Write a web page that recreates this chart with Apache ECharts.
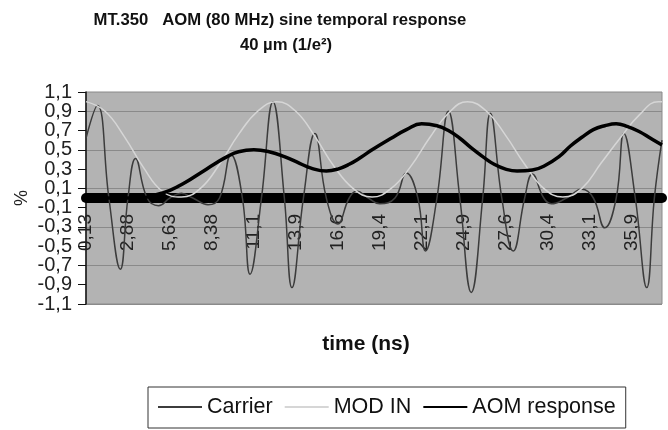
<!DOCTYPE html>
<html>
<head>
<meta charset="utf-8">
<script src="https://cdn.jsdelivr.net/npm/echarts@6/dist/echarts.min.js"></script>
<style>html,body{margin:0;padding:0;background:#fff;}#c{width:668px;height:430px;}</style>
</head>
<body>
<div id="c"></div>
<script>
// time axis categories (ns), one sample every 0.25 ns
const times = [
  0.125,0.375,0.625,0.875,1.125,1.375,1.625,1.875,
  2.125,2.375,2.625,2.875,3.125,3.375,3.625,3.875,
  4.125,4.375,4.625,4.875,5.125,5.375,5.625,5.875,
  6.125,6.375,6.625,6.875,7.125,7.375,7.625,7.875,
  8.125,8.375,8.625,8.875,9.125,9.375,9.625,9.875,
  10.125,10.375,10.625,10.875,11.125,11.375,11.625,11.875,
  12.125,12.375,12.625,12.875,13.125,13.375,13.625,13.875,
  14.125,14.375,14.625,14.875,15.125,15.375,15.625,15.875,
  16.125,16.375,16.625,16.875,17.125,17.375,17.625,17.875,
  18.125,18.375,18.625,18.875,19.125,19.375,19.625,19.875,
  20.125,20.375,20.625,20.875,21.125,21.375,21.625,21.875,
  22.125,22.375,22.625,22.875,23.125,23.375,23.625,23.875,
  24.125,24.375,24.625,24.875,25.125,25.375,25.625,25.875,
  26.125,26.375,26.625,26.875,27.125,27.375,27.625,27.875,
  28.125,28.375,28.625,28.875,29.125,29.375,29.625,29.875,
  30.125,30.375,30.625,30.875,31.125,31.375,31.625,31.875,
  32.125,32.375,32.625,32.875,33.125,33.375,33.625,33.875,
  34.125,34.375,34.625,34.875,35.125,35.375,35.625,35.875,
  36.125,36.375,36.625,36.875,37.125,37.375,37.625,37.875
];

// labelled y ticks (%), split in non-adjacent groups so none is hidden
const yTicks = [-1.1,-0.9,-0.7,-0.5,-0.3,-0.1,0.1,0.3,0.5,0.7,0.9,1.1];
const yTicksEnds = [-1.1, 1.1];
const yTicksA = [-0.9,-0.5,-0.1,0.3,0.7];
const yTicksB = [-0.7,-0.3,0.1,0.5,0.9];

// [sample index, value]
const carrier = [
  [0,0.62],[3,0.96],[6,0],[9,-0.74],[11,0],[13,0.41],[16,0],[19,-0.08],[22,0],[25,0.05],
  [28,0],[32,-0.07],[35,0],[38,0.45],[41,0],[43,-0.79],[46,0],[49,1.0],[52,0],[54,-0.93],
  [57,0],[60,0.67],[63,0],[66,-0.27],[69,0],[71,0.07],[74,0],[77,-0.06],[81,0],[84,0.26],
  [87,0],[89,-0.55],[92,0],[95,0.9],[98,0],[101,-0.98],[104,0],[106,0.88],[109,0],[112,-0.55],
  [115,0],[117,0.25],[120,0],[122,-0.06],[126,0],[130,0.09],[133,0],[136,-0.31],[139,0],[141,0.67],
  [144,0],[147,-0.93],[149,0],[151,0.6]
];
const modIn = [
  [0,1.0],[5,0.9],[10,0.64],[15,0.32],[20,0.07],[25,0.01],[30,0.1],[35,0.35],[40,0.66],[45,0.9],
  [50,1.0],[55,0.9],[60,0.64],[65,0.33],[70,0.1],[75,0.01],[80,0.1],[85,0.32],[90,0.62],[95,0.88],
  [100,1.0],[105,0.9],[110,0.65],[115,0.35],[120,0.1],[125,0.01],[130,0.1],[135,0.36],[140,0.62],[145,0.86],
  [150,1.0],[151,1.0]
];
const aomResponse = [
  [0,0],[14,0],[18,0.03],[22,0.08],[26,0.16],[30,0.26],[34,0.36],[37,0.43],[40,0.48],[44,0.5],
  [48,0.48],[52,0.43],[56,0.36],[59,0.31],[63,0.28],[66,0.3],[69,0.35],[72,0.42],[75,0.5],[80,0.62],
  [84,0.71],[88,0.77],[92,0.75],[95,0.7],[98,0.62],[101,0.52],[104,0.43],[107,0.35],[110,0.3],[113,0.28],
  [117,0.29],[120,0.33],[124,0.43],[127,0.54],[130,0.63],[133,0.71],[136,0.75],[139,0.77],[142,0.74],[145,0.69],
  [148,0.62],[151,0.55]
];

const FONT = "'Liberation Sans', Arial, sans-serif";
function yFmt(v) {
  const t = Math.round(v * 10);
  return (t / 10).toFixed(1).replace('.', ',');
}
function labelAxis(values) {
  return {
    type: 'value', min: -1.1, max: 1.1, interval: 0.1, position: 'left', offset: 0,
    axisLine: {show: false}, axisTick: {show: false}, splitLine: {show: false},
    axisLabel: {
      margin: 14, fontFamily: FONT, fontSize: 20, color: '#222',
      showMinLabel: true, showMaxLabel: true, hideOverlap: false,
      customValues: values, formatter: yFmt
    }
  };
}

const chart = echarts.init(document.getElementById('c'), null, {renderer: 'canvas'});
chart.setOption({
  animation: false,
  backgroundColor: '#ffffff',
  title: [
    {text: 'MT.350   AOM (80 MHz) sine temporal response', left: 280, top: 12, textAlign: 'center', padding: 0,
     textStyle: {fontFamily: FONT, fontSize: 16.7, fontWeight: 'bold', color: '#111'}},
    {text: '40 µm (1/e²)', left: 286, top: 37, textAlign: 'center', padding: 0,
     textStyle: {fontFamily: FONT, fontSize: 16.7, fontWeight: 'bold', color: '#111'}},
    {text: 'time (ns)', left: 366, top: 334, textAlign: 'center', padding: 0,
     textStyle: {fontFamily: FONT, fontSize: 21, fontWeight: 'bold', color: '#111'}}
  ],
  legend: {
    left: 148, top: 387,
    orient: 'horizontal',
    padding: [9, 10, 10, 9],
    itemGap: 11, itemWidth: 44, itemHeight: 14,
    borderColor: '#333', borderWidth: 1,
    itemStyle: {opacity: 0},
    textStyle: {fontFamily: FONT, fontSize: 21.5, color: '#111'},
    data: ['Carrier', 'MOD IN', 'AOM response']
  },
  grid: {
    left: 86, right: 6, top: 92, bottom: 126,
    show: true, backgroundColor: '#b3b3b3', borderWidth: 1, borderColor: '#8a8a8a'
  },
  xAxis: {
    type: 'category',
    data: times.map(String),
    boundaryGap: false,
    offset: -106,
    axisLine: {onZero: false, lineStyle: {color: '#000', width: 10}},
    axisTick: {show: false},
    splitLine: {show: false},
    axisLabel: {
      interval: 10, rotate: 90, margin: 16, hideOverlap: false,
      fontFamily: FONT, fontSize: 19, color: '#222',
      formatter: function (v) {
        const n = parseFloat(v);
        return (n < 10 ? n.toFixed(2) : n.toFixed(1)).replace('.', ',');
      }
    }
  },
  yAxis: [
    {
      type: 'value',
      min: -1.1, max: 1.1, interval: 0.1, position: 'left', offset: 0,
      name: '%', nameLocation: 'middle', nameGap: 55, nameRotate: 90, nameMoveOverlap: false,
      nameTextStyle: {fontFamily: FONT, fontSize: 18, color: '#222'},
      axisLine: {show: true, lineStyle: {color: '#111', width: 1.5}},
      axisTick: {show: true, length: 8, lineStyle: {color: '#111'}, customValues: yTicks},
      splitLine: {show: true, lineStyle: {color: ['#8a8a8a', 'rgba(0,0,0,0)'], width: 1}},
      axisLabel: {
        margin: 14, fontFamily: FONT, fontSize: 20, color: '#222',
        showMinLabel: true, showMaxLabel: true, hideOverlap: false,
        customValues: yTicksEnds, formatter: yFmt
      }
    },
    labelAxis(yTicksA),
    labelAxis(yTicksB)
  ],
  series: [
    {name: 'Carrier', type: 'line', data: carrier, symbol: 'none', smooth: 0.45,
     lineStyle: {color: '#3c3c3c', width: 1.5}, itemStyle: {color: '#3c3c3c', opacity: 0}},
    {name: 'MOD IN', type: 'line', data: modIn, symbol: 'none', smooth: 0.45,
     lineStyle: {color: '#d6d6d6', width: 1.5}, itemStyle: {color: '#d6d6d6', opacity: 0}},
    {name: 'AOM response', type: 'line', data: aomResponse, symbol: 'none', smooth: 0.45,
     lineStyle: {color: '#000', width: 3.5}, itemStyle: {color: '#000', opacity: 0}}
  ]
});
</script>
</body>
</html>
